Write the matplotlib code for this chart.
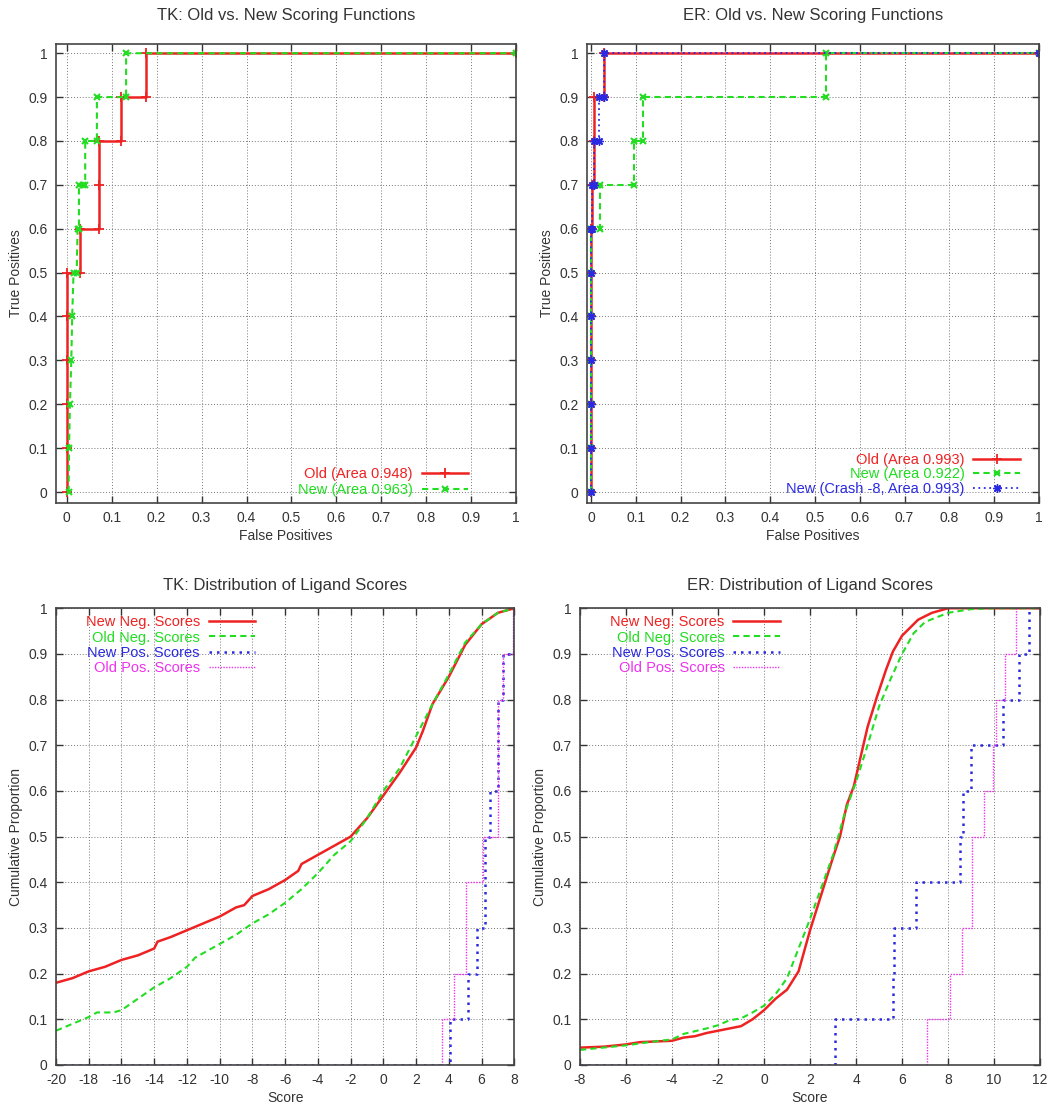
import matplotlib
matplotlib.use("Agg")
import matplotlib.pyplot as plt
import numpy as np

plt.rcParams['font.family'] = ['Liberation Sans', 'DejaVu Sans']

# ---- ROC data ----
tk_old_fp = [0, 0, 0, 0, 0, 0, 0.03, 0.03, 0.072, 0.072, 0.072, 0.12, 0.12, 0.176, 0.176, 1.0]
tk_old_tp = [0, 0.1, 0.2, 0.3, 0.4, 0.5, 0.5, 0.6, 0.6, 0.7, 0.8, 0.8, 0.9, 0.9, 1.0, 1.0]
tk_new_fp = [0.004, 0.005, 0.007, 0.01, 0.012, 0.015, 0.022, 0.024, 0.027, 0.027, 0.035,
             0.041, 0.041, 0.067, 0.067, 0.132, 0.132, 1.0]
tk_new_tp = [0, 0.1, 0.2, 0.3, 0.4, 0.5, 0.5, 0.6, 0.6, 0.7, 0.7,
             0.7, 0.8, 0.8, 0.9, 0.9, 1.0, 1.0]

er_old_fp = [0, 0, 0, 0, 0, 0, 0, 0.003, 0.003, 0.007, 0.007, 0.007, 0.028, 0.028, 1.0]
er_old_tp = [0, 0.1, 0.2, 0.3, 0.4, 0.5, 0.6, 0.6, 0.7, 0.7, 0.8, 0.9, 0.9, 1.0, 1.0]
er_new_fp = [0, 0, 0, 0, 0, 0, 0, 0.02, 0.02, 0.097, 0.097, 0.116, 0.116, 0.524, 0.524, 1.0]
er_new_tp = [0, 0.1, 0.2, 0.3, 0.4, 0.5, 0.6, 0.6, 0.7, 0.7, 0.8, 0.8, 0.9, 0.9, 1.0, 1.0]
er_crash_fp = [0, 0, 0, 0, 0, 0, 0, 0.003, 0.003, 0.007, 0.007, 0.018, 0.018, 0.028, 0.028, 1.0]
er_crash_tp = [0, 0.1, 0.2, 0.3, 0.4, 0.5, 0.6, 0.6, 0.7, 0.7, 0.8, 0.8, 0.9, 0.9, 1.0, 1.0]

# ---- score distributions ----
tk_newneg_x = [-20, -19, -18, -17, -16, -15, -14, -13.8, -13, -12, -11, -10, -9, -8.5, -8,
               -7, -6, -5.2, -5, -4, -3, -2, -1, 0, 1, 2, 2.4, 3, 4, 5, 6, 7, 7.5, 8]
tk_newneg_y = [0.18, 0.19, 0.205, 0.215, 0.23, 0.24, 0.255, 0.27, 0.28, 0.295, 0.31, 0.325,
               0.345, 0.35, 0.37, 0.385, 0.405, 0.425, 0.44, 0.46, 0.48, 0.50, 0.54, 0.59,
               0.64, 0.695, 0.73, 0.79, 0.85, 0.92, 0.965, 0.99, 0.995, 1.0]
tk_oldneg_x = [-20, -19, -18, -17.5, -16.5, -16, -15, -14, -13, -12, -11.5, -11, -10, -9, -8,
               -7, -6, -5, -4, -3, -2, -1, 0, 1, 2, 3, 4, 5, 6, 7, 8]
tk_oldneg_y = [0.075, 0.09, 0.105, 0.115, 0.115, 0.12, 0.145, 0.17, 0.19, 0.215, 0.235, 0.245,
               0.265, 0.285, 0.31, 0.33, 0.355, 0.385, 0.42, 0.46, 0.49, 0.54, 0.6, 0.65,
               0.72, 0.79, 0.855, 0.925, 0.965, 0.99, 1.0]
tk_newpos_x = [-20, 4.1, 5.15, 5.7, 6.2, 6.5, 7.0, 7.3, 8.0]
tk_newpos_y = [0, 0.1, 0.2, 0.3, 0.5, 0.6, 0.8, 0.9, 1.0]
tk_oldpos_x = [-20, 3.6, 4.33, 5.05, 6.1, 6.98, 7.3, 7.95]
tk_oldpos_y = [0, 0.1, 0.2, 0.4, 0.5, 0.8, 0.9, 1.0]

er_newneg_x = [-8, -7, -6, -5.4, -4, -3.5, -3, -2.5, -2, -1.5, -1, -0.5, 0, 0.5, 1, 1.5, 2,
               2.5, 3, 3.3, 3.6, 3.9, 4.2, 4.5, 4.9, 5.3, 5.6, 6.0, 6.4, 6.7, 7.3, 8, 12]
er_newneg_y = [0.038, 0.04, 0.045, 0.05, 0.053, 0.06, 0.063, 0.07, 0.075, 0.08, 0.085, 0.1,
               0.12, 0.145, 0.165, 0.205, 0.295, 0.375, 0.455, 0.5, 0.57, 0.61, 0.675, 0.74,
               0.805, 0.865, 0.905, 0.94, 0.96, 0.975, 0.99, 1.0, 1.0]
er_oldneg_x = [-8, -7, -6, -5, -4, -3.5, -3, -2.5, -2, -1.5, -1, -0.5, 0, 0.5, 1, 1.5, 2, 2.5,
               3, 3.5, 4, 4.5, 5, 5.5, 6, 6.5, 7, 8, 9, 10, 12]
er_oldneg_y = [0.033, 0.038, 0.043, 0.05, 0.056, 0.068, 0.074, 0.08, 0.087, 0.098, 0.102, 0.115,
               0.13, 0.155, 0.19, 0.255, 0.32, 0.39, 0.46, 0.55, 0.62, 0.7, 0.785, 0.845, 0.9,
               0.945, 0.97, 0.99, 0.998, 1.0, 1.0]
er_newpos_x = [-8, 3.1, 5.6, 5.65, 6.6, 8.5, 8.65, 9.0, 10.4, 11.1, 11.5]
er_newpos_y = [0, 0.1, 0.2, 0.3, 0.4, 0.5, 0.6, 0.7, 0.8, 0.9, 1.0]
er_oldpos_x = [-8, 7.1, 8.09, 8.6, 9.03, 9.57, 9.97, 10.1, 10.48, 10.96]
er_oldpos_y = [0, 0.1, 0.2, 0.3, 0.5, 0.6, 0.7, 0.8, 0.9, 1.0]

RED = '#ee2222'
GREEN = '#22dd22'
BLUE = '#2a2ae0'
MAGENTA = '#ee33ee'
TXT = '#333333'

LEG = dict(markerfirst=False, frameon=False, labelcolor='linecolor', fontsize=10.5,
           handlelength=3.2, handletextpad=0.6, borderpad=0, borderaxespad=0)


def style_axes(ax, xticks, yticks):
    ax.set_xticks(xticks)
    ax.set_yticks(yticks)
    ax.set_xticklabels([f'{v:g}' for v in xticks])
    ax.set_yticklabels([f'{v:g}' for v in yticks])
    ax.tick_params(direction='in', top=True, right=True, length=5, width=1.0,
                   labelsize=10, colors='#333333')
    ax.tick_params(axis='x', pad=6)
    ax.tick_params(axis='y', pad=6)
    ax.grid(True, linestyle=(0, (1, 2)), color='#777777', linewidth=0.7)
    for s in ax.spines.values():
        s.set_color('#444444')
        s.set_linewidth(1.2)


fig = plt.figure(figsize=(10.47, 11.14), dpi=100)
frac = np.round(np.arange(0, 1.01, 0.1), 1)

# TK ROC
ax1 = fig.add_axes([0.0535, 0.5485, 0.4394, 0.412])
ax1.plot(tk_old_fp, tk_old_tp, color=RED, lw=1.8, marker='+', ms=7, mew=1.3,
         label='Old (Area 0.948)')
ax1.plot(tk_new_fp, tk_new_tp, color=GREEN, lw=1.5, ls=(0, (3, 2)), marker='x', ms=5, mew=1.5,
         label='New (Area 0.963)')
ax1.set_xlim(-0.024, 1.0)
ax1.set_ylim(-0.025, 1.021)
style_axes(ax1, frac, frac)
ax1.set_title('TK: Old vs. New Scoring Functions', fontsize=12, color=TXT, pad=17)
ax1.set_xlabel('False Positives', fontsize=10, color=TXT, labelpad=3)
ax1.set_ylabel('True Positives', fontsize=10, color=TXT)
ax1.legend(loc='lower right', bbox_to_anchor=(0.896, 0.012), labelspacing=0.15, **LEG)

# ER ROC
ax2 = fig.add_axes([0.5606, 0.5485, 0.4317, 0.412])
ax2.plot(er_old_fp, er_old_tp, color=RED, lw=1.8, marker='+', ms=7, mew=1.3,
         label='Old (Area 0.993)')
ax2.plot(er_new_fp, er_new_tp, color=GREEN, lw=1.5, ls=(0, (3, 2)), marker='x', ms=5, mew=1.5,
         label='New (Area 0.922)')
ax2.plot(er_crash_fp, er_crash_tp, color=BLUE, lw=1.3, ls=(0, (1, 2)), marker=(8, 2, 0), ms=6,
         mew=1.0, label='New (Crash -8, Area 0.993)')
ax2.set_xlim(-0.009, 1.0)
ax2.set_ylim(-0.025, 1.021)
style_axes(ax2, frac, frac)
ax2.set_title('ER: Old vs. New Scoring Functions', fontsize=12, color=TXT, pad=17)
ax2.set_xlabel('False Positives', fontsize=10, color=TXT, labelpad=3)
ax2.set_ylabel('True Positives', fontsize=10, color=TXT)
ax2.legend(loc='lower right', bbox_to_anchor=(0.958, 0.015), labelspacing=0.05, **LEG)

# TK distribution
ax3 = fig.add_axes([0.0535, 0.044, 0.4377, 0.41])
ax3.plot(tk_newneg_x, tk_newneg_y, color=RED, lw=1.8, label='New Neg. Scores')
ax3.plot(tk_oldneg_x, tk_oldneg_y, color=GREEN, lw=1.5, ls=(0, (3, 2)), label='Old Neg. Scores')
ax3.step(tk_newpos_x, tk_newpos_y, where='post', color=BLUE, lw=1.8, ls=(0, (1, 2)),
         label='New Pos. Scores')
ax3.step(tk_oldpos_x, tk_oldpos_y, where='post', color=MAGENTA, lw=1.0, ls=(0, (1, 1)),
         label='Old Pos. Scores')
ax3.set_xlim(-20, 8)
ax3.set_ylim(0, 1)
style_axes(ax3, np.arange(-20, 9, 2), frac)
ax3.set_title('TK: Distribution of Ligand Scores', fontsize=12, color=TXT, pad=13)
ax3.set_xlabel('Score', fontsize=10, color=TXT, labelpad=3)
ax3.set_ylabel('Cumulative Proportion', fontsize=10, color=TXT)
ax3.legend(loc='upper right', bbox_to_anchor=(0.435, 0.985), labelspacing=0.1, **LEG)

# ER distribution
ax4 = fig.add_axes([0.554, 0.044, 0.4394, 0.41])
ax4.plot(er_newneg_x, er_newneg_y, color=RED, lw=1.8, label='New Neg. Scores')
ax4.plot(er_oldneg_x, er_oldneg_y, color=GREEN, lw=1.5, ls=(0, (3, 2)), label='Old Neg. Scores')
ax4.step(er_newpos_x, er_newpos_y, where='post', color=BLUE, lw=1.8, ls=(0, (1, 2)),
         label='New Pos. Scores')
ax4.step(er_oldpos_x, er_oldpos_y, where='post', color=MAGENTA, lw=1.0, ls=(0, (1, 1)),
         label='Old Pos. Scores')
ax4.set_xlim(-8, 12)
ax4.set_ylim(0, 1)
style_axes(ax4, np.arange(-8, 13, 2), frac)
ax4.set_title('ER: Distribution of Ligand Scores', fontsize=12, color=TXT, pad=13)
ax4.set_xlabel('Score', fontsize=10, color=TXT, labelpad=3)
ax4.set_ylabel('Cumulative Proportion', fontsize=10, color=TXT)
ax4.legend(loc='upper right', bbox_to_anchor=(0.435, 0.985), labelspacing=0.1, **LEG)

fig.savefig('out.png', dpi=100, facecolor='white')
